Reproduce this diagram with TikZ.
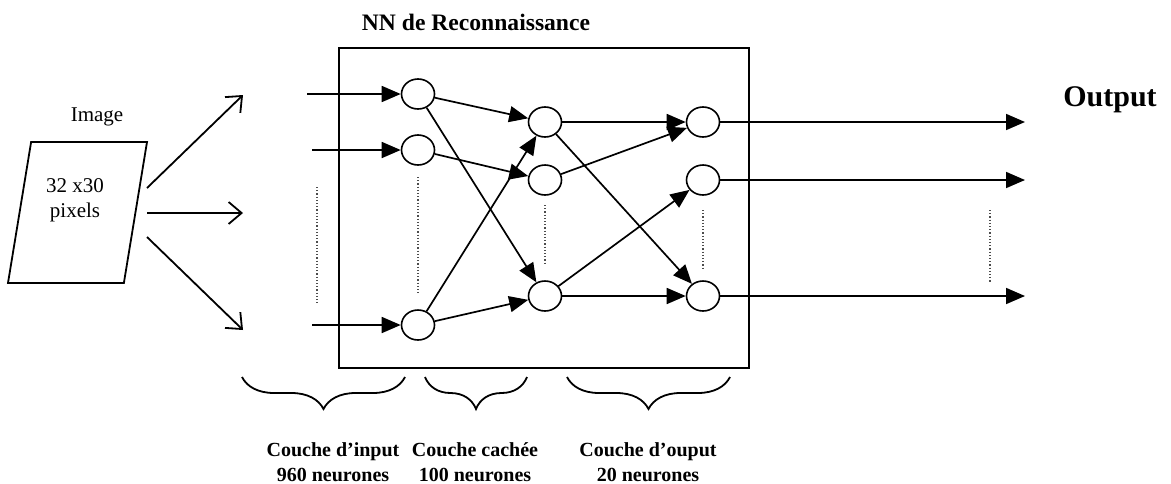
\documentclass[tikz,border=0pt]{standalone}
\usepackage{fontspec}
\setmainfont{Liberation Serif}
\usetikzlibrary{positioning, arrows.meta, shapes.geometric, decorations.pathreplacing}

\begin{document}
\begin{tikzpicture}[
    x=0.5pt, y=0.5pt,
    neuron/.style={
        ellipse,
        draw,
        line width=0.8pt,
        minimum width=16.5pt,
        minimum height=15pt,
        inner sep=0pt
    },
    netbox/.style={rectangle, draw, line width=1pt, minimum width=205pt, minimum height=160pt},
    syn/.style={-{Triangle[length=9.5pt, width=8pt]}, line width=0.85pt},
    fan/.style={-{Straight Barb[length=6.5pt, width=11pt]}, line width=0.9pt},
    gap/.style={densely dotted, line width=0.6pt, gray!60!black},
    brace/.style={decorate, decoration={brace, mirror, amplitude=16pt}, line width=0.9pt},
    layerlabel/.style={font=\fontsize{10}{12.5}\selectfont\bfseries, align=center}
]

\useasboundingbox (0,0) rectangle (1171,-483);

\def\xin{418}
\def\xhid{545}
\def\xout{703}

% Image
\node (imglabel) at (97,-117) {\fontsize{10.5}{12}\selectfont Image};
\node[trapezium, trapezium left angle=76, trapezium right angle=104, trapezium stretches=true,
      draw, line width=0.9pt, minimum width=69.5pt, minimum height=70.5pt] (img) at (77.5,-212.5) {};
\node[font=\fontsize{10.5}{12.5}\selectfont, align=center] (imgtxt) at (75,-200) {32 x30\\pixels};

\coordinate (s1) at (147,-188);
\coordinate (s2) at (147,-213);
\coordinate (s3) at (147,-237);
\coordinate (f1) at (243,-95);
\coordinate (f2) at (243,-213);
\coordinate (f3) at (243,-330);
\draw[fan] (s1) -- (f1);
\draw[fan] (s2) -- (f2);
\draw[fan] (s3) -- (f3);

% Network box
\node[netbox] (nn) at (544,-208) {};
\node[font=\fontsize{11.8}{14}\selectfont\bfseries] (title) at (476,-22) {NN de Reconnaissance};

% Neurons
\node[neuron] (i1) at (\xin,-94) {};
\node[neuron] (i2) at (\xin,-150) {};
\node[neuron] (i3) at (\xin,-325) {};
\node[neuron] (h1) at (\xhid,-122) {};
\node[neuron] (h2) at (\xhid,-180) {};
\node[neuron] (h3) at (\xhid,-296) {};
\node[neuron] (o1) at (\xout,-122) {};
\node[neuron] (o2) at (\xout,-180) {};
\node[neuron] (o3) at (\xout,-296) {};

% Inputs
\coordinate (in1) at (307,-94);
\coordinate (in2) at (312,-150);
\coordinate (in3) at (312,-325);
\draw[syn] (in1) -- (i1);
\draw[syn] (in2) -- (i2);
\draw[syn] (in3) -- (i3);

% Input -> hidden
\draw[syn] (i1) -- (h1);
\draw[syn] (i1) -- (h3);
\draw[syn] (i2) -- (h2);
\draw[syn] (i3) -- (h1);
\draw[syn] (i3) -- (h3);

% Hidden -> output
\draw[syn] (h1) -- (o1);
\draw[syn] (h1) -- (o3);
\draw[syn] (h2) -- (o1);
\draw[syn] (h3) -- (o2);
\draw[syn] (h3) -- (o3);

% Outputs
\coordinate (out1) at (1025,-122);
\coordinate (out2) at (1025,-180);
\coordinate (out3) at (1025,-296);
\draw[syn] (o1) -- (out1);
\draw[syn] (o2) -- (out2);
\draw[syn] (o3) -- (out3);
\node[font=\fontsize{15}{18}\selectfont\bfseries] (outlabel) at (1110,-100) {Output};

% Dots
\draw[gap] (317,-187) -- (317,-305);
\draw[gap] (\xin,-177) -- (\xin,-293);
\draw[gap] (\xhid,-205) -- (\xhid,-265);
\draw[gap] (\xout,-210) -- (\xout,-270);
\draw[gap] (990,-210) -- (990,-283);

% Layers
\draw[brace] (242,-377) -- (405,-377);
\draw[brace] (425,-377) -- (527,-377);
\draw[brace] (567,-377) -- (730,-377);
\node[layerlabel] (linput) at (333,-462) {Couche d’input\\960 neurones};
\node[layerlabel] (lhidden) at (475,-462) {Couche cachée\\100 neurones};
\node[layerlabel] (loutput) at (648,-462) {Couche d’ouput\\20 neurones};

\end{tikzpicture}
\end{document}
